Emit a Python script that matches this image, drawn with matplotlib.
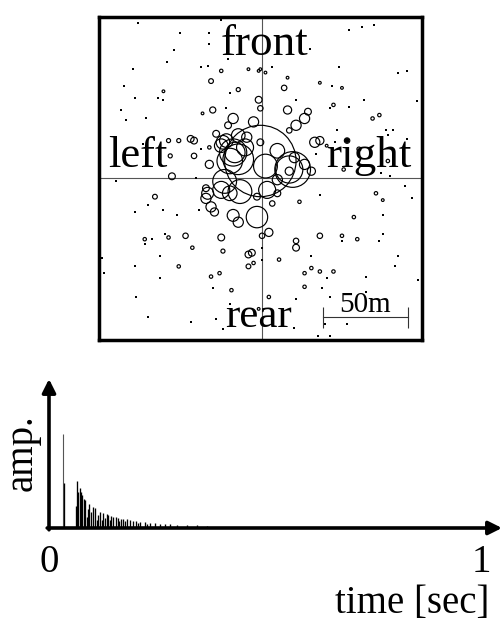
import numpy as np
import matplotlib
matplotlib.use('Agg')
import matplotlib.pyplot as plt
from matplotlib.patches import Circle
from matplotlib.transforms import blended_transform_factory

plt.rcParams['font.family'] = ['Liberation Serif', 'DejaVu Serif']

# --- reflector map (metres, listener at origin) ---
dot_x = [-73, -24, -48, -31, -31, -52, -56, -76, -36, -32, -20, -81, -75, -61, -58, -19, -83, -80, -68, -21, -70,
         51, 59, 66, 28, 6, 45, 80, 85, 41, 20, 60, 91, 51, 40, 44, 73, 77, 74, 85, 32, 43, 70, 75,
         -86, -75, -67, -58, -50, -37, -65, -69, -57, -60, -94, -75, -93, -60, -29, -74, -19, -67, -42, -27, -23, 0, -39, -36,
         84, 88, 34, 71, 69, 47, 29, 80, 78, 38, 61, 92, 35, 61, 40, 20, 50, 19, 37, 0, 33, 40, 71]
dot_y = [91, 93, 85, 85, 79, 75, 68, 64, 65, 66, 70, 54, 47, 47, 46, 50, 40, 34, 35, 41, 20,
         87, 89, 90, 76, 65, 65, 62, 63, 54, 46, 46, 45, 42, 41, 28, 28, 28, 25, 23, 14, 21, 3, 1,
         -2, -20, -16, -19, -22, -19, -36, -39, -33, -46, -47, -52, -56, -59, -65, -70, -74, -82, -85, -83, -89, -48, 0, 17,
         -5, -12, -10, -33, -37, -37, -46, -46, -52, -59, -58, -60, -65, -67, -70, -71, -86, -88, -86, -41, -93, -93, -22]

circ_x = [-1, -21, -16, -14, -19, -10, -14, -9, -31, 2, 9, 16, 18, 19, 16, 25, 29, -1, -17, -5, -20, 20, 25, 16, 31, 34,
          -22, -24, -19, -13, -32, -33, -30, -28, -33, -17, -14, -3, 3, 9, 9, 6, -3, 4, -31, -23, -17, -24,
          -24, -30, -8, -2, -58, -14, -29, -27, -55, -49, -42, -40, -40, -54, -53, -2, -35, -1,
          -1, 2, 15, 34, 47, 13, 15, 27, 42, 65, 69, 38, 50, 57, 74, 48,
          -63, -69, -55, -45, -41, -24, -23, -49, -25, -30, -18, -8, -6, -8, -5, 0, -2,
          22, 67, 71, 54, 34, 47, 56, 20, 20, 10, 29, 34, 42, 25, 25, 4]
circ_y = [10, 22, 15, 11, 10, 18, 25, 24, 8, 7, 16, 5, 5, 12, 4, 8, 4, 21, 35, 33, 31, 31, 35, 28, 21, 22,
          -2, -7, -9, -8, -9, -12, -17, -20, -6, -22, -26, -23, -7, -1, -9, -15, -11, -32, 18, 21, 15, 19,
          63, 57, 64, 63, 51, 52, 40, 26, 22, 22, 23, 22, 13, 13, 1, 46, 38, 41,
          64, 62, 59, 56, 53, 53, 40, 39, 43, 35, 37, 19, 22, 17, 10, 5,
          -11, -36, -35, -34, -41, -35, -43, -52, -56, -58, -66, -45, -44, -52, -50, -34, -77,
          -14, -9, -13, -23, -34, -34, -36, -37, -41, -48, -53, -55, -55, -56, -64, -70]
circ_r = [21, 4, 6, 9, 7.5, 5, 4, 3, 2.4, 7, 4.3, 8, 10.5, 3, 2.4, 3, 2.4, 2, 3, 3, 2, 3, 3, 1.6, 3, 2.4,
          7, 5, 4.3, 7, 3.5, 3, 3, 2.4, 2, 3.5, 3, 6.3, 5, 3, 2, 1.6, 2, 2.4, 1, 4, 8, 4,
          1, 1.4, 0.8, 0.8, 0.8, 1.2, 1.8, 2, 1.2, 1.2, 2, 2, 1.6, 1.2, 2, 2, 0.8, 1.6,
          0.8, 0.8, 0.8, 0.8, 0.8, 1.6, 2.4, 2, 1, 1, 1, 0.8, 1.6, 1.2, 1, 1,
          1.4, 1, 1, 1.6, 1, 2, 1.2, 1, 1, 1, 1, 2, 2, 1.4, 1, 1.6, 0.8,
          1, 1, 0.8, 1, 1.6, 1, 1, 1.6, 2, 1, 1, 1, 1, 1, 1, 1]

scale_len = 50  # m

# --- impulse response (time in s, amplitude relative to direct sound) ---
ir_t = [0.033, 0.034, 0.062, 0.065, 0.068, 0.071, 0.074, 0.077, 0.081, 0.084, 0.087, 0.090, 0.093, 0.097,
        0.101, 0.106, 0.110, 0.114, 0.118, 0.122, 0.126, 0.130, 0.134, 0.137, 0.141, 0.144, 0.149, 0.154,
        0.160, 0.163, 0.167, 0.172, 0.176, 0.180, 0.188, 0.194, 0.201, 0.206, 0.211, 0.222, 0.228, 0.234,
        0.245, 0.257, 0.269, 0.280, 0.296, 0.319, 0.342, 0.365]
ir_a = [1.0, 0.48, 0.23, 0.50, 0.38, 0.43, 0.38, 0.35, 0.31, 0.30, 0.12, 0.20, 0.26, 0.17,
        0.22, 0.21, 0.09, 0.14, 0.17, 0.09, 0.16, 0.11, 0.15, 0.14, 0.09, 0.13, 0.12, 0.12,
        0.11, 0.07, 0.10, 0.10, 0.07, 0.095, 0.085, 0.071, 0.074, 0.05, 0.064, 0.061, 0.045, 0.053,
        0.050, 0.046, 0.043, 0.039, 0.034, 0.031, 0.028, 0.025]

W, H = 504, 624
def px_box(x0, y0, x1, y1):
    return [x0 / W, 1 - y1 / H, (x1 - x0) / W, (y1 - y0) / H]

fig = plt.figure(figsize=(W / 100, H / 100), dpi=100)

# top: reflector map
ax = fig.add_axes(px_box(99, 17, 421.7, 340))
ax.set_xlim(-95.9, 93.9)
ax.set_ylim(-95.3, 94.7)
for s in ax.spines.values():
    s.set_linewidth(2.5)
ax.set_xticks([]); ax.set_yticks([])
ax.axhline(0, color='#555555', lw=0.8, zorder=1)
ax.axvline(0, color='#555555', lw=0.8, zorder=1)
for x, y, r in zip(circ_x, circ_y, circ_r):
    ax.add_patch(Circle((x, y), r, fill=False, ec='k', lw=0.85, zorder=2))
ax.plot(dot_x, dot_y, 's', ms=1.9, mew=0, color='k', zorder=2)

sx0, sy = 35.7, -82
ax.plot([sx0, sx0 + scale_len], [sy, sy], color='#333333', lw=0.8)
ax.vlines([sx0, sx0 + scale_len], sy - 6, sy + 6, color='#333333', lw=0.8)

def ftext(x, y, s, **kw):
    return fig.text(x / W, 1 - y / H, s, va='baseline', **kw)

ftext(265, 55, 'front', ha='center', fontsize=32.5)
ftext(108, 167, 'left', ha='left', fontsize=32)
ftext(326, 167, 'right', ha='left', fontsize=32.5)
ftext(259, 327, 'rear', ha='center', fontsize=31)
ftext(365, 312, '50m', ha='center', fontsize=21)

# bottom: impulse response
ax2 = fig.add_axes(px_box(49, 379, 502, 528))
ax2.set_xlim(0, (502 - 49) / 432)
ax2.set_ylim(0, (528 - 379) / 94)
ax2.axis('off')
ax2.vlines(ir_t[:1], 0, ir_a[:1], color='#555555', lw=0.8)
ax2.vlines(ir_t[1:], 0, ir_a[1:], color='k', lw=0.95)
arr = dict(arrowstyle='-|>', lw=2.6, color='k', mutation_scale=20, shrinkA=0, shrinkB=0)
ax2.annotate('', xy=(1, 0), xytext=(-0.004, 0), xycoords='axes fraction', arrowprops=arr)
ax2.annotate('', xy=(0, 1), xytext=(0, -0.012), xycoords='axes fraction', arrowprops=arr)

tr = blended_transform_factory(ax2.transData, fig.transFigure)
for v in [0, 1]:
    ax2.text(v, 1 - 572 / H, str(v), transform=tr, ha='center', va='baseline', fontsize=28)
ftext(412, 613, 'time [sec]', ha='center', fontsize=28)
fig.text(32 / W, 1 - 453 / H, 'amp.', rotation=90, rotation_mode='anchor',
         ha='center', va='baseline', fontsize=28)

fig.savefig('out.png', dpi=100, facecolor='white')
